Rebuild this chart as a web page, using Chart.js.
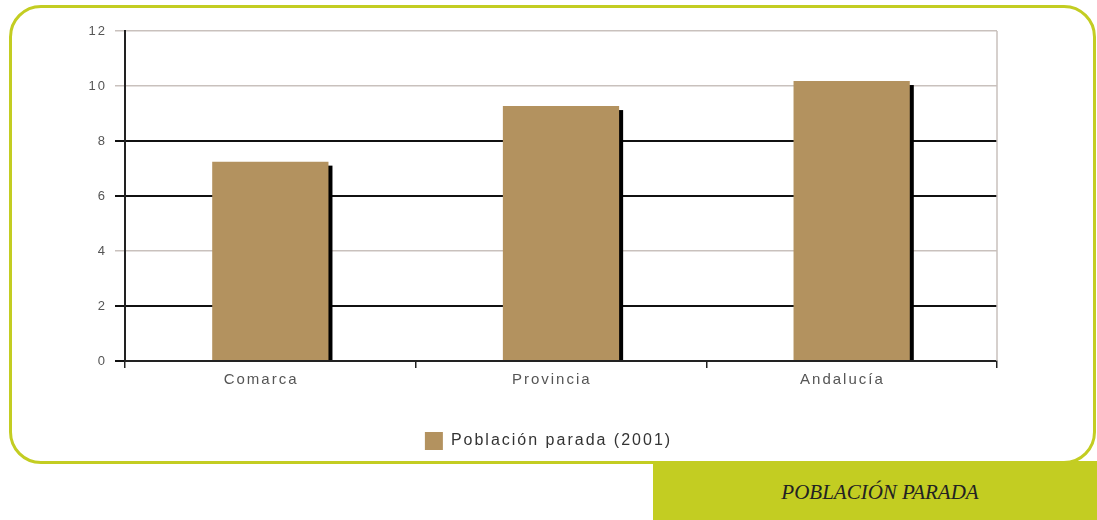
<!DOCTYPE html>
<html>
<head>
    <meta charset="utf-8">
    <title>Población parada</title>
    <script src="https://cdn.jsdelivr.net/npm/chart.js"></script>
    <style>
        body { margin: 0; width: 1097px; height: 520px; overflow: hidden; background: #fff; position: relative; }
        .marco { position: absolute; left: 9px; top: 5px; width: 1081px; height: 453px; border: 3px solid #c3cd22; border-radius: 32px; background: #fff; z-index: 1; }
        .pie { position: absolute; left: 653px; top: 461px; width: 444px; height: 59px; background: #c3cd22; z-index: 0; }
        .titulo { position: absolute; left: 653px; top: 461px; width: 454px; height: 59px; line-height: 62px; text-align: center; z-index: 2;
                  font-family: "Liberation Serif", serif; font-style: italic; font-size: 21px; color: #222; }
        .lienzo { position: absolute; left: 0; top: 0; width: 1097px; height: 460px; z-index: 2; }
    </style>
</head>
<body>
    <div class="pie"></div>
    <div class="marco"></div>
    <div class="titulo">POBLACIÓN PARADA</div>
    <div class="lienzo"><canvas id="paradosChart"></canvas></div>

    <script>
    // Datos del gráfico
    const categorias = ['Comarca', 'Provincia', 'Andalucía'];
    const poblacionParada = [7.25, 9.27, 10.18];
    const etiquetaSerie = 'Población parada (2001)';
    const valoresEje = [0, 2, 4, 6, 8, 10, 12];

    // Sombra negra a la derecha de cada barra
    const sombraBarras = {
        id: 'sombraBarras',
        beforeDatasetsDraw(chart) {
            const ctx = chart.ctx;
            const meta = chart.getDatasetMeta(0);
            ctx.save();
            ctx.fillStyle = '#000';
            meta.data.forEach(bar => {
                const right = bar.x + bar.width / 2;
                ctx.fillRect(right - 1, bar.y + 4, 5, bar.base - bar.y - 4);
            });
            ctx.restore();
        }
    };

    // Texto espaciado como en el original
    const espaciado = {
        id: 'espaciado',
        beforeLayout(chart) { chart.ctx.letterSpacing = '2px'; },
        beforeDraw(chart) { chart.ctx.letterSpacing = '2px'; }
    };

    const gris = '#c9c1bd';
    const fuente = 'Liberation Sans';

    new Chart(document.getElementById('paradosChart'), {
        type: 'bar',
        data: {
            labels: categorias,
            datasets: [{
                label: etiquetaSerie,
                data: poblacionParada,
                backgroundColor: '#b3925f',
                barPercentage: 0.8,
                categoryPercentage: 0.5
            }]
        },
        options: {
            responsive: true,
            maintainAspectRatio: false,
            animation: false,
            layout: { padding: { top: 31, right: 0, bottom: 0, left: 0 } },
            plugins: {
                legend: {
                    position: 'bottom',
                    labels: {
                        boxWidth: 18,
                        boxHeight: 18,
                        padding: 12,
                        color: '#333',
                        font: { family: fuente, size: 16 }
                    }
                },
                tooltip: { enabled: false }
            },
            scales: {
                x: {
                    grid: {
                        drawOnChartArea: false,
                        color: '#222',
                        tickLength: 7,
                        lineWidth: 1.5
                    },
                    border: { color: '#222', width: 2 },
                    ticks: {
                        color: '#555',
                        font: { family: fuente, size: 15 },
                        padding: 3,
                        callback(value) { return categorias[value] + '   '; }
                    },
                    afterFit(scale) { scale.height = 59; }
                },
                y: {
                    min: 0,
                    max: 12,
                    afterBuildTicks(scale) { scale.ticks = valoresEje.map(v => ({ value: v })); },
                    grid: {
                        color: ctx => (ctx.tick && [4, 10, 12].includes(ctx.tick.value)) ? gris : '#111',
                        lineWidth: ctx => (ctx.tick && [4, 10, 12].includes(ctx.tick.value)) ? 1.5 : 2,
                        tickLength: 10
                    },
                    border: { color: '#222', width: 2 },
                    ticks: { color: '#555', font: { family: fuente, size: 13 }, padding: 8 },
                    afterFit(scale) { scale.width = 125; }
                },
                // eje vacío que reserva el margen derecho
                margen: {
                    type: 'linear',
                    position: 'right',
                    grid: { display: false },
                    border: { display: false },
                    ticks: { display: false },
                    afterFit(scale) { scale.width = 100; }
                }
            }
        },
        plugins: [espaciado, sombraBarras, {
            id: 'bordeDerecho',
            afterDraw(chart) {
                const { ctx, chartArea } = chart;
                ctx.save();
                ctx.strokeStyle = gris;
                ctx.lineWidth = 1.5;
                ctx.beginPath();
                ctx.moveTo(chartArea.right, chartArea.top);
                ctx.lineTo(chartArea.right, chartArea.bottom);
                ctx.stroke();
                ctx.restore();
            }
        }]
    });
    </script>
</body>
</html>
